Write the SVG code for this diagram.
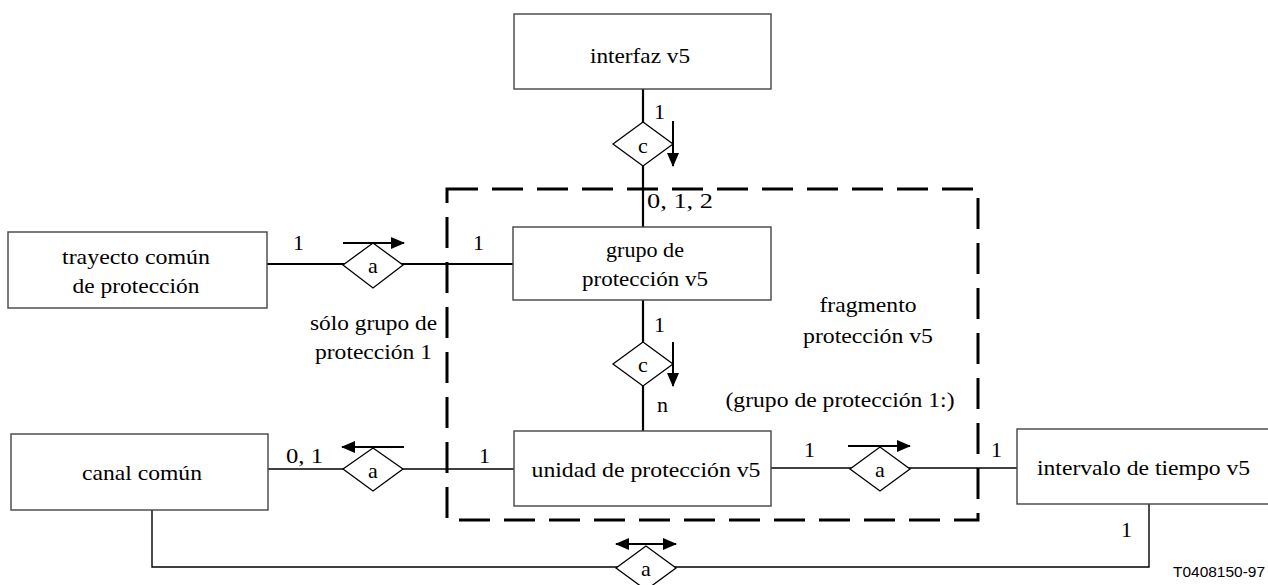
<svg xmlns="http://www.w3.org/2000/svg" width="1268" height="585" viewBox="0 0 1268 585" font-family="'Liberation Serif', 'Times New Roman', Times, serif" font-size="22">
<style>
.box{fill:#fff;stroke:#444;stroke-width:1.4}
.dia{fill:#fff;stroke:#000;stroke-width:1.3}
.ln{fill:none;stroke:#000;stroke-width:1.4}
.lnb{fill:none;stroke:#000;stroke-width:2.2}
.arr{fill:none;stroke:#000;stroke-width:2}
.dash{fill:none;stroke:#000;stroke-width:3;stroke-dasharray:31 14}
.c{text-anchor:middle}
</style>
<defs>
<marker id="ah" markerUnits="userSpaceOnUse" markerWidth="14" markerHeight="14" viewBox="0 0 14 12" refX="13" refY="6" orient="auto-start-reverse">
<path d="M0,0 L14,6 L0,12 Z" fill="#000"/>
</marker>
</defs>

<g id="fragment">
<rect class="dash" x="447" y="189" width="531" height="331"/>
<text class="c" x="868" y="312" textLength="97" lengthAdjust="spacingAndGlyphs">fragmento</text>
<text class="c" x="868" y="343" textLength="130" lengthAdjust="spacingAndGlyphs">protección v5</text>
<text class="c" x="840" y="407" textLength="229" lengthAdjust="spacingAndGlyphs">(grupo de protección 1:)</text>
</g>

<g id="connectors">
<line class="lnb" x1="643" y1="89" x2="643" y2="227"/>
<line class="lnb" x1="643" y1="300" x2="643" y2="431"/>
<line class="lnb" x1="267" y1="264" x2="513" y2="264"/>
<line class="ln" x1="268" y1="469" x2="514" y2="469"/>
<line class="ln" x1="771" y1="468" x2="1017" y2="468"/>
<path class="ln" d="M152,510 V567 H1149 V504"/>

<g id="rel-c1">
<polygon class="dia" points="643,122 673,144 643,166 613,144"/>
<text class="c" x="643" y="153">c</text>
<line class="arr" x1="673" y1="121" x2="673" y2="166" marker-end="url(#ah)"/>
</g>
<g id="rel-c2">
<polygon class="dia" points="643,342 673,364 643,386 613,364"/>
<text class="c" x="643" y="372">c</text>
<line class="arr" x1="673" y1="342" x2="673" y2="386" marker-end="url(#ah)"/>
</g>
<g id="rel-a1">
<polygon class="dia" points="343,265 373,243 403,265 373,288"/>
<text class="c" x="373" y="273">a</text>
<line class="arr" x1="343" y1="243" x2="404" y2="243" marker-end="url(#ah)"/>
</g>
<g id="rel-a2">
<polygon class="dia" points="343,469 373,448 403,469 373,491"/>
<text class="c" x="373" y="478">a</text>
<line class="arr" x1="404" y1="447" x2="342" y2="447" marker-end="url(#ah)"/>
</g>
<g id="rel-a3">
<polygon class="dia" points="850,469 880,447 910,469 880,491"/>
<text class="c" x="880" y="477">a</text>
<line class="arr" x1="848" y1="446" x2="910" y2="446" marker-end="url(#ah)"/>
</g>
<g id="rel-a4">
<polygon class="dia" points="616,568 646,546 676,568 646,590"/>
<text class="c" x="646" y="576">a</text>
<line class="arr" x1="616" y1="544" x2="676" y2="544" marker-start="url(#ah)" marker-end="url(#ah)"/>
</g>

<text x="654" y="119">1</text>
<text x="647" y="208" textLength="66" lengthAdjust="spacingAndGlyphs">0, 1, 2</text>
<text x="293" y="250">1</text>
<text x="473" y="250">1</text>
<text x="310" y="330" textLength="127" lengthAdjust="spacingAndGlyphs">sólo grupo de</text>
<text x="315" y="359" textLength="117" lengthAdjust="spacingAndGlyphs">protección 1</text>
<text x="654" y="332">1</text>
<text x="657" y="412">n</text>
<text x="286" y="463" textLength="37" lengthAdjust="spacingAndGlyphs">0, 1</text>
<text x="479" y="463">1</text>
<text x="804" y="457">1</text>
<text x="991" y="457">1</text>
<text x="1121" y="537">1</text>
</g>

<g id="interfaz">
<rect class="box" x="514" y="14" width="257" height="75"/>
<text class="c" x="640" y="63" textLength="100" lengthAdjust="spacingAndGlyphs">interfaz v5</text>
</g>
<g id="grupo">
<rect class="box" x="513" y="227" width="258" height="73"/>
<text class="c" x="645" y="257" textLength="78" lengthAdjust="spacingAndGlyphs">grupo de</text>
<text class="c" x="645" y="286" textLength="126" lengthAdjust="spacingAndGlyphs">protección v5</text>
</g>
<g id="trayecto">
<rect class="box" x="8" y="232" width="259" height="76"/>
<text class="c" x="136" y="264" textLength="148" lengthAdjust="spacingAndGlyphs">trayecto común</text>
<text class="c" x="136" y="293" textLength="127" lengthAdjust="spacingAndGlyphs">de protección</text>
</g>
<g id="canal">
<rect class="box" x="11" y="434" width="257" height="76"/>
<text class="c" x="142" y="480" textLength="120" lengthAdjust="spacingAndGlyphs">canal común</text>
</g>
<g id="unidad">
<rect class="box" x="514" y="431" width="257" height="75"/>
<text class="c" x="646" y="477" textLength="229" lengthAdjust="spacingAndGlyphs">unidad de protección v5</text>
</g>
<g id="intervalo">
<rect class="box" x="1017" y="429" width="260" height="75"/>
<text x="1037" y="475" textLength="213" lengthAdjust="spacingAndGlyphs">intervalo de tiempo v5</text>
</g>

<text x="1173" y="577" font-family="'Liberation Sans', Arial, sans-serif" font-size="15" textLength="92" lengthAdjust="spacingAndGlyphs">T0408150-97</text>
</svg>
